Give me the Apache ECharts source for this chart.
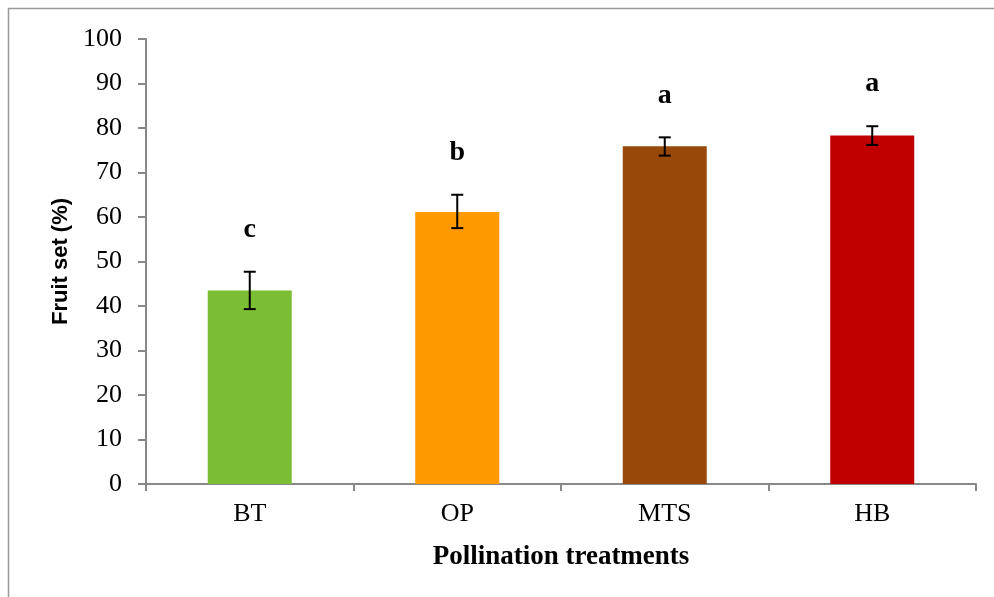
<!DOCTYPE html>
<html>
<head>
<meta charset="utf-8">
<script src="https://cdn.jsdelivr.net/npm/echarts@6/dist/echarts.min.js"></script>
<style>
  html, body { margin: 0; padding: 0; background: #fff; }
  #main { width: 994px; height: 597px; }
</style>
</head>
<body>
<div id="main"></div>
<script>
let treatments = ['BT', 'OP', 'MTS', 'HB'];
let fruitSet = [43.5, 61.1, 75.9, 78.3];
let errLow = [39.3, 57.5, 73.8, 76.2];
let errHigh = [47.7, 65.0, 77.9, 80.4];
let letters = ['c', 'b', 'a', 'a'];
let barColors = ['#7CBE33', '#FF9900', '#984808', '#C00000'];

let chart = echarts.init(document.getElementById('main'));

let errData = treatments.map(function (t, i) {
  return [i, errLow[i], errHigh[i], letters[i]];
});

let option = {
  animation: false,
  backgroundColor: '#fff',
  graphic: [{
    type: 'rect',
    shape: { x: 8.5, y: 8.5, width: 1000, height: 700 },
    style: { fill: 'none', stroke: '#999', lineWidth: 1.5 },
    z: -1
  }],
  grid: {
    left: 146,
    right: 18,
    top: 39,
    bottom: 113
  },
  xAxis: {
    type: 'category',
    data: treatments,
    name: 'Pollination treatments',
    nameLocation: 'middle',
    nameGap: 60,
    nameTextStyle: {
      fontFamily: 'Liberation Serif',
      fontWeight: 'bold',
      fontSize: 27,
      color: '#000'
    },
    axisLine: { lineStyle: { color: '#888', width: 2 } },
    axisTick: { show: true, length: 7, lineStyle: { color: '#888', width: 2 } },
    axisLabel: {
      margin: 17,
      fontFamily: 'Liberation Serif',
      fontSize: 26,
      color: '#000'
    }
  },
  yAxis: {
    type: 'value',
    min: 0,
    max: 100,
    interval: 10,
    name: 'Fruit set (%)',
    nameLocation: 'middle',
    nameGap: 74,
    nameRotate: 90,
    nameTextStyle: {
      fontFamily: 'Liberation Sans',
      fontWeight: 'bold',
      fontSize: 22,
      color: '#000'
    },
    splitLine: { show: false },
    axisLine: { show: true, lineStyle: { color: '#888', width: 2 } },
    axisTick: { show: true, length: 8, lineStyle: { color: '#888', width: 2 } },
    axisLabel: {
      margin: 24,
      fontFamily: 'Liberation Serif',
      fontSize: 26,
      color: '#000'
    }
  },
  series: [
    {
      name: 'Fruit set',
      type: 'bar',
      barWidth: 84,
      data: fruitSet.map(function (v, i) {
        return { value: v, itemStyle: { color: barColors[i] } };
      })
    },
    {
      name: 'SE',
      type: 'custom',
      z: 5,
      data: errData,
      encode: { x: 0, y: [1, 2] },
      renderItem: function (params, api) {
        let x = api.value(0);
        let lo = api.coord([x, api.value(1)]);
        let hi = api.coord([x, api.value(2)]);
        let half = 6;
        let style = { stroke: '#000', lineWidth: 2 };
        return {
          type: 'group',
          children: [
            { type: 'line', shape: { x1: hi[0], y1: hi[1], x2: lo[0], y2: lo[1] }, style: style },
            { type: 'line', shape: { x1: hi[0] - half, y1: hi[1], x2: hi[0] + half, y2: hi[1] }, style: style },
            { type: 'line', shape: { x1: lo[0] - half, y1: lo[1], x2: lo[0] + half, y2: lo[1] }, style: style },
            {
              type: 'text',
              style: {
                text: api.value(3),
                x: hi[0],
                y: hi[1] - 42,
                align: 'center',
                verticalAlign: 'middle',
                font: 'bold 28px "Liberation Serif"',
                fill: '#000'
              }
            }
          ]
        };
      }
    }
  ]
};

chart.setOption(option);
</script>
</body>
</html>
